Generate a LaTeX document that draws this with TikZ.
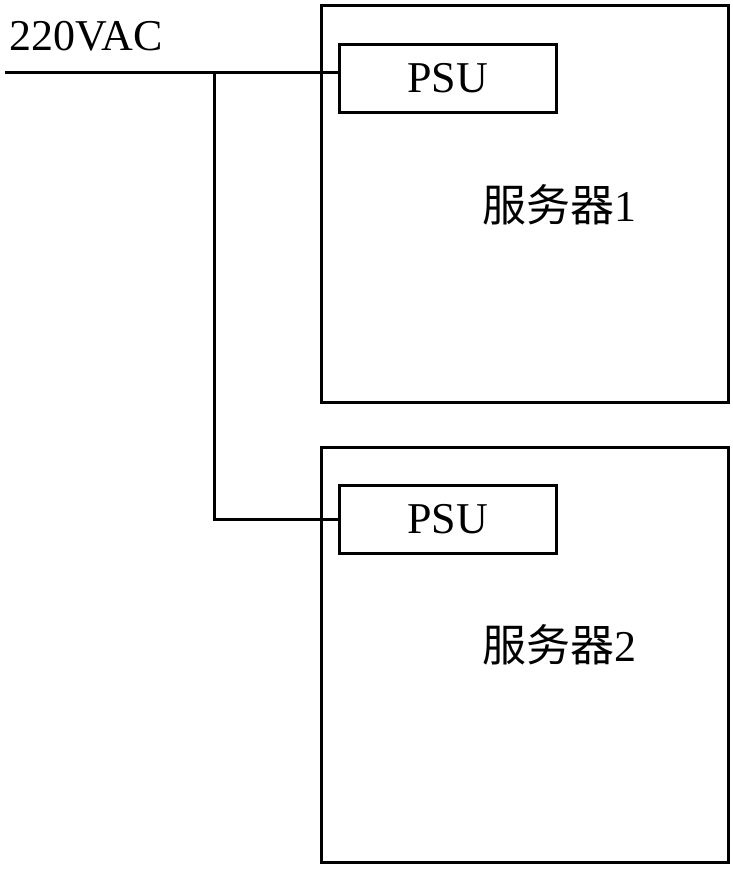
\documentclass[tikz,border=0pt]{standalone}
\usepackage{fontspec}
\setmainfont{Liberation Serif}
\newfontfamily\cjk{Noto Sans CJK SC}
\usetikzlibrary{positioning}
\tikzset{
  server/.style = {draw, line width=3pt, minimum width=407pt, inner sep=0pt},
  psu/.style    = {draw, line width=3pt, minimum width=217pt, minimum height=68pt,
                   inner sep=0pt, font=\fontsize{44}{48}\selectfont},
  srvlbl/.style = {font=\fontsize{44}{48}\selectfont, inner sep=0pt},
  wire/.style   = {line width=3pt},
}

\begin{document}
\begin{tikzpicture}[x=1pt, y=-1pt]
    \useasboundingbox (0,0) rectangle (733,871);
    % Servers with their power supplies
    \node[server, minimum height=397pt] (srvA) at (524.5,203.5) {};
    \node[psu]                          (psuA) at (447.5,78)    {PSU};
    \node[srvlbl]                       (lblA) at (559,205)     {{\cjk 服务器}1};

    \node[server, minimum height=415pt] (srvB) at (524.5,654.5) {};
    \node[psu]                          (psuB) at (447.5,519)   {PSU};
    \node[srvlbl]                       (lblB) at (559,645)     {{\cjk 服务器}2};

    % Mains feed
    \node[srvlbl, anchor=base west]     (ac)   at (9,50)        {220VAC};
    \coordinate (feed) at (5,72);
    \coordinate (tap)  at (214,72);

    \draw[wire] (feed) -- (feed -| psuA.west);
    \draw[wire] (tap) |- (psuB.west);
\end{tikzpicture}
\end{document}
